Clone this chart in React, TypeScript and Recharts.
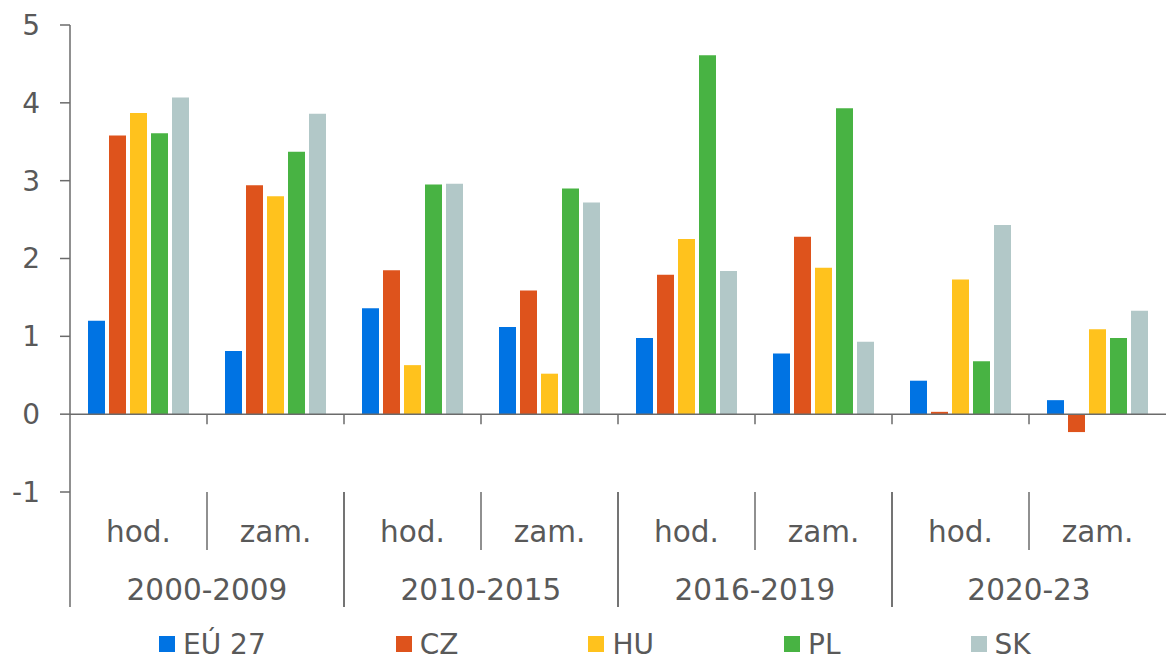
import React from "react";
import { BarChart, Bar, XAxis, YAxis, ReferenceLine, Legend } from "recharts";

const periods = ["2000-2009", "2010-2015", "2016-2019", "2020-23"];
const subLabels = ["hod.", "zam."];
const categories = periods.flatMap((p) => subLabels.map((s) => `${p} ${s}`));

const eu27 = [1.2, 0.81, 1.36, 1.12, 0.98, 0.78, 0.43, 0.18];
const cz = [3.58, 2.94, 1.85, 1.59, 1.79, 2.28, 0.03, -0.23];
const hu = [3.87, 2.8, 0.63, 0.52, 2.25, 1.88, 1.73, 1.09];
const pl = [3.61, 3.37, 2.95, 2.9, 4.61, 3.93, 0.68, 0.98];
const sk = [4.07, 3.86, 2.96, 2.72, 1.84, 0.93, 2.43, 1.33];

const yTicks = [-1, 0, 1, 2, 3, 4, 5];

const series = [
  { key: "eu", name: "EÚ 27", color: "#0073E3", values: eu27 },
  { key: "cz", name: "CZ", color: "#DE531C", values: cz },
  { key: "hu", name: "HU", color: "#FFC21D", values: hu },
  { key: "pl", name: "PL", color: "#48B343", values: pl },
  { key: "sk", name: "SK", color: "#B2C8C8", values: sk },
];

const data = categories.map((cat, i) => {
  const row: Record<string, string | number> = { cat };
  series.forEach((s) => (row[s.key] = s.values[i]));
  return row;
});

const FONT = "'DejaVu Sans', Verdana, sans-serif";
const TEXT = "#595959";
const AXIS = "#6b6b6b";
const BAND = (1166 - 70) / categories.length;

function CategoryTick(props: any) {
  const { x, index } = props;
  const sub = subLabels[index % 2];
  const isFirst = index % 2 === 0;
  const isLast = index === categories.length - 1;
  const half = BAND / 2;
  return (
    <g>
      <text x={x} y={542} textAnchor="middle" fill={TEXT} fontSize={29.5} fontFamily={FONT}>
        {sub}
      </text>
      {isFirst ? (
        <>
          <line x1={x - half} x2={x - half} y1={492} y2={607} stroke={AXIS} strokeWidth={1.5} />
          <line x1={x + half} x2={x + half} y1={492} y2={550} stroke={AXIS} strokeWidth={1.5} />
          <text x={x + half} y={600} textAnchor="middle" fill={TEXT} fontSize={29.5} fontFamily={FONT}>
            {periods[Math.floor(index / 2)]}
          </text>
        </>
      ) : (
        !isLast && <line x1={x + half} x2={x + half} y1={492} y2={607} stroke={AXIS} strokeWidth={1.5} />
      )}
    </g>
  );
}

function ZeroLine(props: any) {
  const { x1, y1, x2 } = props;
  const step = (x2 - x1) / categories.length;
  return (
    <g>
      <line x1={x1} x2={x2} y1={y1} y2={y1} stroke={AXIS} strokeWidth={1.5} />
      {categories.slice(1).map((_, i) => (
        <line
          key={i}
          x1={x1 + step * (i + 1)}
          x2={x1 + step * (i + 1)}
          y1={y1}
          y2={y1 + 10}
          stroke={AXIS}
          strokeWidth={1.5}
        />
      ))}
    </g>
  );
}

function LegendRow() {
  return (
    <div style={{ display: "flex", paddingLeft: 159, height: 32, alignItems: "center" }}>
      {series.map((s) => (
        <div
          key={s.key}
          style={{ display: "flex", alignItems: "center", marginRight: 130, fontFamily: FONT, fontSize: 28, color: TEXT }}
        >
          <span style={{ display: "inline-block", width: 16, height: 16, background: s.color, marginRight: 8 }} />
          {s.name}
        </div>
      ))}
    </div>
  );
}

export default function App() {
  return (
    <div style={{ position: "absolute", left: 0, top: 0, background: "#fff" }}>
      <BarChart
        width={1166}
        height={659}
        data={data}
        margin={{ top: 25, right: 0, left: 0, bottom: 0 }}
        barCategoryGap={18}
        barGap={4}
      >
        <XAxis
          dataKey="cat"
          height={135}
          axisLine={false}
          tickLine={false}
          interval={0}
          tick={<CategoryTick />}
        />
        <YAxis
          width={70}
          domain={[-1, 5]}
          ticks={yTicks}
          interval={0}
          tickSize={10}
          tickMargin={20}
          axisLine={{ stroke: AXIS, strokeWidth: 1.5 }}
          tickLine={{ stroke: AXIS, strokeWidth: 1.5 }}
          tick={{ fill: TEXT, fontSize: 28, fontFamily: FONT }}
        />
        {series.map((s) => (
          <Bar key={s.key} dataKey={s.key} name={s.name} fill={s.color} isAnimationActive={false} />
        ))}
        <ReferenceLine y={0} shape={<ZeroLine />} />
        <Legend content={<LegendRow />} wrapperStyle={{ left: 0, top: 628, width: 1166 }} />
      </BarChart>
    </div>
  );
}
